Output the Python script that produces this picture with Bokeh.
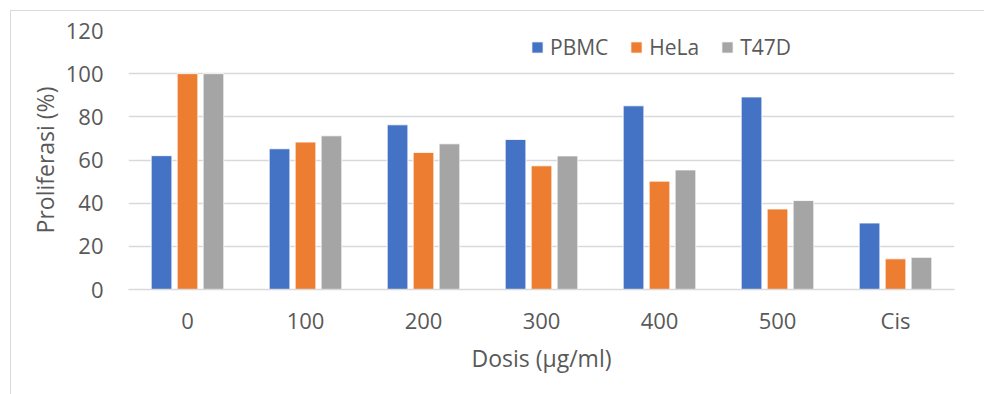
from bokeh.plotting import figure
from bokeh.models import (ColumnDataSource, FactorRange, Range1d, FixedTicker,
                          Legend, LegendItem)
from bokeh.transform import dodge
from bokeh.embed import file_html
from bokeh.resources import INLINE

# Proliferation (%) per dose for each cell line
doses = ["0", "100", "200", "300", "400", "500", "Cis"]
pbmc = [62.0, 65.2, 76.3, 69.5, 85.1, 89.2, 30.8]
hela = [100.0, 68.3, 63.5, 57.3, 50.2, 37.3, 14.2]
t47d = [100.0, 71.2, 67.5, 61.9, 55.4, 41.2, 14.9]
series_names = ["PBMC", "HeLa", "T47D"]
y_ticks = [0, 20, 40, 60, 80, 100, 120]

colors = ["#4472C4", "#ED7D31", "#A5A5A5"]
FONT = "Open Sans"
TEXT = "#595959"
GRID = "#D9D9D9"

source = ColumnDataSource(dict(dose=doses, PBMC=pbmc, HeLa=hela, T47D=t47d))

p = figure(
    width=974, height=384,
    x_range=FactorRange(*doses, range_padding=0),
    y_range=Range1d(0, 120),
    output_backend="svg", toolbar_location=None,
    min_border_left=117, min_border_right=31,
    min_border_top=19, min_border_bottom=106,
    margin=(10, 0, 0, 10),
    styles={"border-top": "1.5px solid #D9D9D9", "border-left": "1.5px solid #D9D9D9"},
)
p.outline_line_color = None
p.background_fill_color = "white"
p.border_fill_color = "white"

offsets = [-0.22, 0.0, 0.22]
renderers = []
for name, off, col in zip(series_names, offsets, colors):
    r = p.vbar(x=dodge("dose", off, range=p.x_range), top=name, width=0.175,
               source=source, fill_color=col, line_color="white", line_width=0.8)
    renderers.append(r)

# grid
p.xgrid.grid_line_color = None
p.ygrid.grid_line_color = GRID
p.ygrid.grid_line_width = 1.5
p.yaxis.ticker = FixedTicker(ticks=y_ticks)

# axes
for ax in (p.xaxis[0], p.yaxis[0]):
    ax.major_tick_line_color = None
    ax.minor_tick_line_color = None
    ax.major_label_text_font = FONT
    ax.major_label_text_font_size = "22px"
    ax.major_label_text_color = TEXT
    ax.axis_label_text_font = FONT
    ax.axis_label_text_font_size = "23px"
    ax.axis_label_text_font_style = "normal"
    ax.axis_label_text_color = TEXT

p.yaxis.axis_line_color = None
p.xaxis.axis_line_color = GRID
p.xaxis.axis_line_width = 1.5
p.yaxis.axis_label = "Proliferasi (%)"
p.xaxis.axis_label = "Dosis (µg/ml)"
p.yaxis.major_label_standoff = 19
p.yaxis.axis_label_standoff = 2
p.xaxis.major_label_standoff = 9
p.xaxis.axis_label_standoff = 4

legend = Legend(
    items=[LegendItem(label=n, renderers=[r]) for n, r in zip(series_names, renderers)],
    orientation="horizontal",
    location=(402, 228),
    border_line_color=None,
    background_fill_alpha=0,
    padding=0, margin=0, spacing=21,
    glyph_width=14, glyph_height=14, label_standoff=6,
    label_text_font=FONT, label_text_font_size="21px", label_text_color=TEXT,
)
p.add_layout(legend)

open("out.html", "w").write(file_html(p, INLINE))
